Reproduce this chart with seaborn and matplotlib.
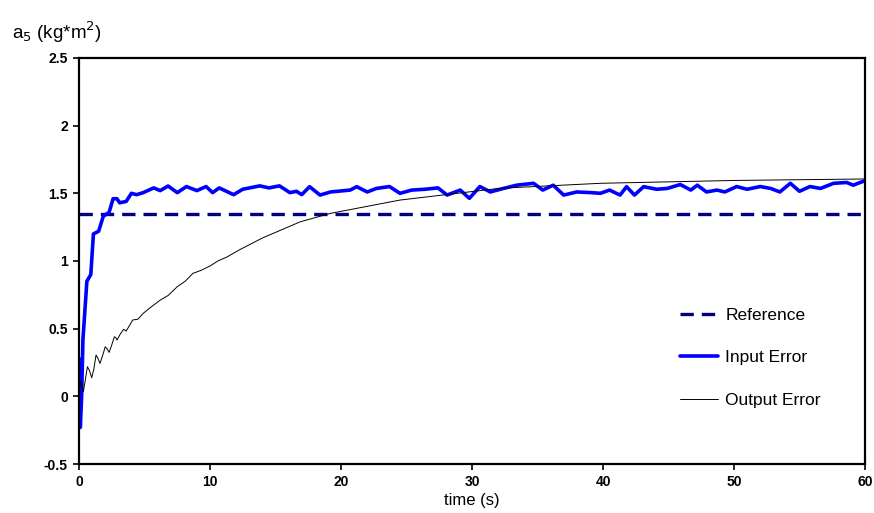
import matplotlib
matplotlib.use("Agg")
import matplotlib.pyplot as plt
import seaborn as sns

# ---- data ----
ref_t = [0, 60]
ref_y = [1.35, 1.35]

# input error (thick blue)
in_t = [0.0, 0.1, 0.2, 0.3, 0.6, 0.9, 1.1, 1.5, 1.85, 2.3, 2.6, 2.9, 3.1, 3.6, 4.0, 4.4,
        4.9, 5.7, 6.2, 6.8, 7.5, 8.2, 9.0, 9.7, 10.2, 10.7, 11.8, 12.5, 13.8, 14.5, 15.3,
        16.1, 16.6, 17.0, 17.6, 18.4, 19.2, 20.7, 21.2, 22.0, 22.7, 23.7, 24.5, 25.4,
        26.4, 27.4, 28.1, 29.1, 29.8, 30.6, 31.4, 32.4, 33.4, 34.7, 35.4, 36.2, 37.0,
        38.0, 39.1, 39.8, 40.5, 41.3, 41.8, 42.4, 43.1, 44.1, 44.9, 45.9, 46.7, 47.2,
        47.9, 48.7, 49.3, 50.2, 51.0, 52.0, 52.8, 53.5, 54.3, 55.0, 55.8, 56.6, 57.6,
        58.6, 59.1, 59.9]
in_y = [0.28, -0.23, 0.0, 0.42, 0.85, 0.9, 1.2, 1.22, 1.33, 1.36, 1.46, 1.46, 1.43, 1.44,
        1.50, 1.49, 1.505, 1.54, 1.52, 1.554, 1.505, 1.55, 1.52, 1.55, 1.505, 1.54, 1.49,
        1.53, 1.555, 1.54, 1.555, 1.505, 1.515, 1.49, 1.549, 1.487, 1.51, 1.524, 1.549,
        1.51, 1.536, 1.55, 1.50, 1.524, 1.53, 1.54, 1.487, 1.524, 1.463, 1.55, 1.51,
        1.536, 1.56, 1.574, 1.524, 1.56, 1.487, 1.51, 1.505, 1.50, 1.524, 1.487, 1.549,
        1.487, 1.549, 1.53, 1.536, 1.565, 1.524, 1.56, 1.51, 1.524, 1.51, 1.55, 1.53,
        1.55, 1.536, 1.51, 1.574, 1.515, 1.55, 1.536, 1.574, 1.58, 1.56, 1.59]

# output error (thin black)
out_t = [0.0, 0.07, 0.13, 0.23, 0.33, 0.48, 0.64, 0.8, 0.97, 1.13, 1.3, 1.45, 1.6, 1.8,
         2.0, 2.15, 2.3, 2.5, 2.7, 2.8, 2.9, 3.15, 3.4, 3.5, 3.6, 4.1, 4.5,
         4.9, 5.5, 6.2, 6.8, 7.5, 8.1, 8.7, 9.3, 10.0, 10.6, 11.3, 12.2, 14.0, 16.9,
         19.2, 24.5, 32.1, 39.8, 50.0, 60.0]
out_y = [0.0, 0.07, 0.11, 0.08, 0.034, 0.12, 0.219, 0.19, 0.137, 0.2, 0.305, 0.28, 0.243,
         0.3, 0.366, 0.35, 0.325, 0.38, 0.44, 0.435, 0.416, 0.46, 0.495, 0.49,
         0.482, 0.564, 0.57, 0.613, 0.66, 0.711, 0.745, 0.81, 0.85, 0.909, 0.93, 0.963,
         1.0, 1.03, 1.08, 1.17, 1.29, 1.352, 1.45, 1.537, 1.574, 1.595, 1.606]

y_ticks = [-0.5, 0, 0.5, 1, 1.5, 2, 2.5]
y_labels = ["-0.5", "0", "0.5", "1", "1.5", "2", "2.5"]
x_ticks = [0, 10, 20, 30, 40, 50, 60]

sns.set_style("white")
plt.rcParams['font.family'] = ['Liberation Sans', 'DejaVu Sans']
plt.rcParams['text.color'] = 'black'
plt.rcParams['axes.labelcolor'] = 'black'
plt.rcParams['xtick.color'] = 'black'
plt.rcParams['ytick.color'] = 'black'

fig = plt.figure(figsize=(8.74, 5.13), dpi=100)
ax = fig.add_axes([0.0904, 0.0955, 0.8993, 0.7915])

sns.lineplot(x=ref_t, y=ref_y, ax=ax, color="#000080", linewidth=2.4,
             label="Reference").lines[-1].set_dashes((4, 2.4))
sns.lineplot(x=in_t, y=in_y, ax=ax, color="#0000ff", linewidth=2.6, label="Input Error")
sns.lineplot(x=out_t, y=out_y, ax=ax, color="black", linewidth=0.7, label="Output Error")

ax.set_xlim(0, 60)
ax.set_ylim(-0.5, 2.5)
ax.set_xticks(x_ticks)
ax.set_xticklabels([str(v) for v in x_ticks], fontweight="bold", fontsize=10)
ax.set_yticks(y_ticks)
ax.set_yticklabels(y_labels, fontweight="bold", fontsize=10)
ax.tick_params(axis="both", direction="out", length=4, width=1.2, color="black",
               labelcolor="black", pad=4, bottom=True, left=True)

for s in ax.spines.values():
    s.set_color("black")
    s.set_linewidth(1.6)

ax.set_xlabel("time (s)", fontsize=12, labelpad=3)
ax.set_ylabel("")
fig.text(0.014, 0.938, r"a$_5$ (kg*m$^2$)", fontsize=13.5, ha="left", va="center")

leg = ax.legend(loc="center left", bbox_to_anchor=(0.745, 0.262), frameon=False,
                fontsize=12.5, labelspacing=1.58, handlelength=2.2, handletextpad=0.4)
leg.get_lines()[0].set_dashes((4, 2.4))

fig.savefig("out.png", dpi=100)
